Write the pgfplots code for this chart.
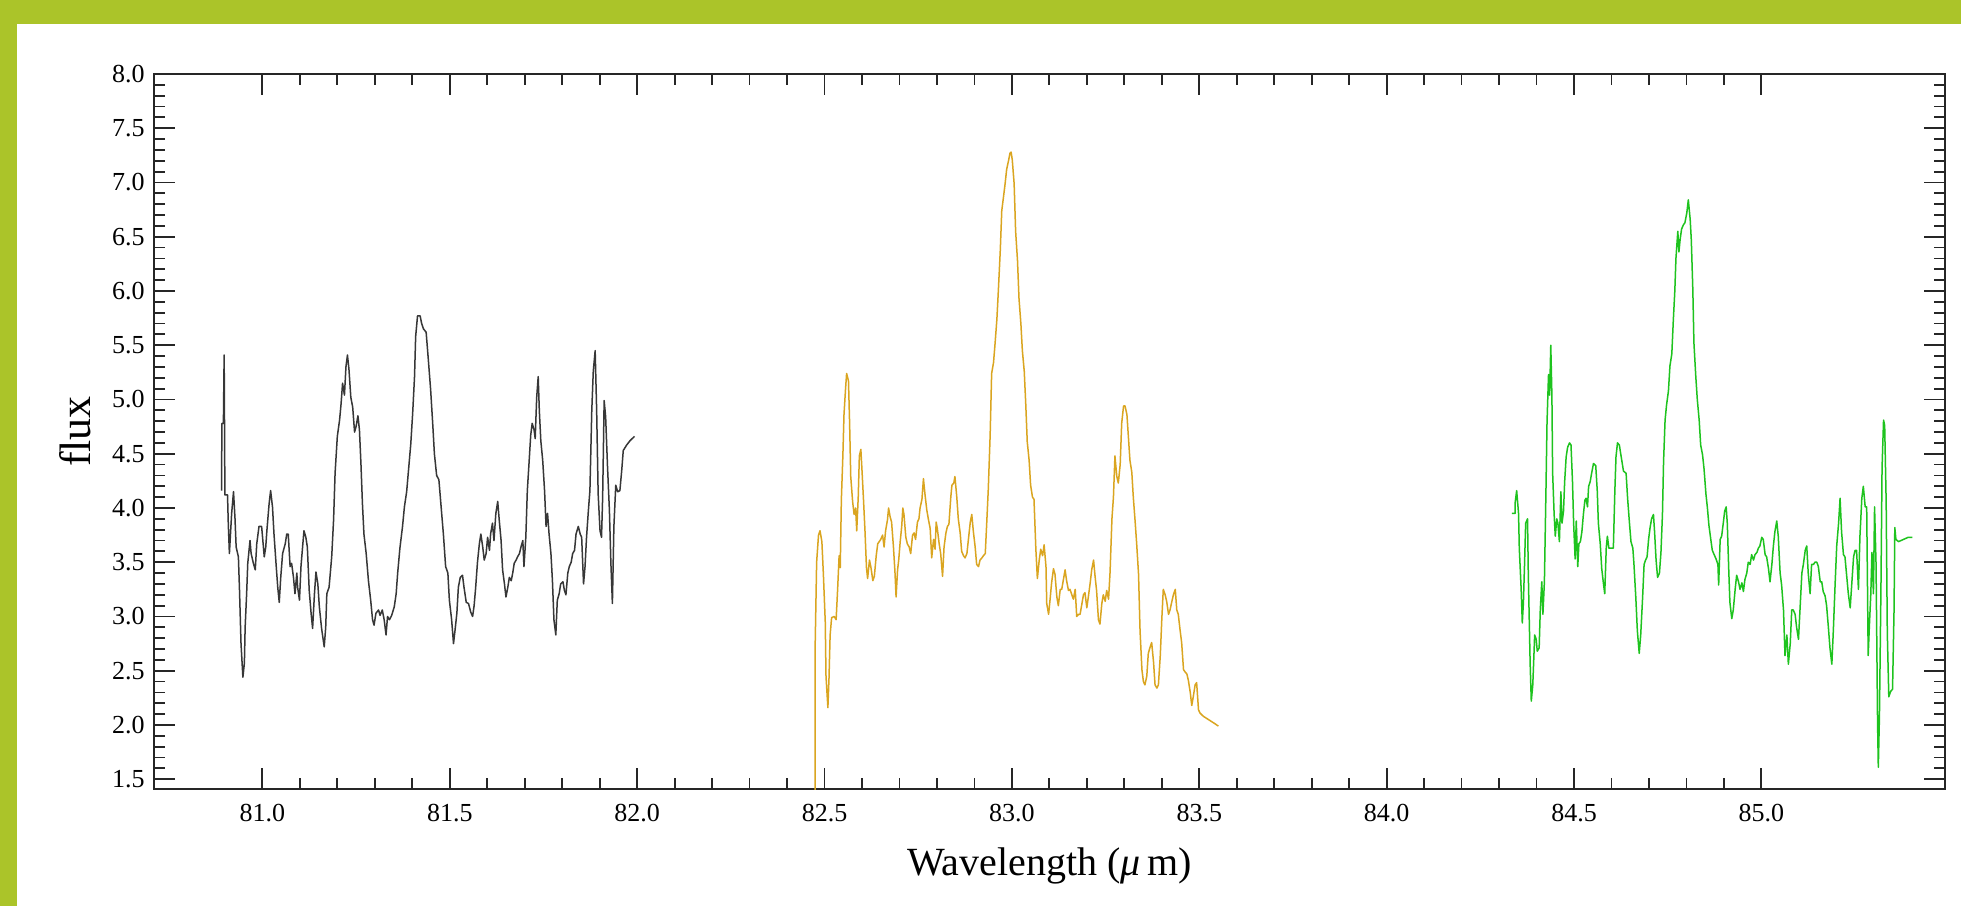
\documentclass[border=0pt]{standalone}
\usepackage{pgfplots}
\pgfplotsset{compat=1.18}
\usepackage{fontspec}
\setmainfont{Liberation Serif}
\definecolor{frame}{RGB}{171,196,41}
\definecolor{cblack}{RGB}{55,55,55}
\definecolor{corange}{RGB}{218,165,32}
\definecolor{cgreen}{RGB}{30,195,30}
\begin{document}
\begin{tikzpicture}
\useasboundingbox (0,0) rectangle (980.5pt,453pt);
\fill[white] (0,0) rectangle (980.5pt,453pt);
\fill[frame] (0,441pt) rectangle (980.5pt,453pt);
\fill[frame] (0,0) rectangle (8.5pt,453pt);
\begin{axis}[
  at={(76.85pt,58.5pt)}, anchor=south west,
  scale only axis, width=895.65pt, height=357.5pt,
  xmin=80.71, xmax=85.49, ymin=1.41, ymax=8.0,
  xtick={81,81.5,82,82.5,83,83.5,84,84.5,85},
  ytick={1.5,2,2.5,3,3.5,4,4.5,5,5.5,6,6.5,7,7.5,8},
  minor x tick num=4, minor y tick num=4,
  major tick length=10.5pt, minor tick length=5.5pt,
  tick align=inside,
  axis line style={line width=0.9pt, draw=black!85},
  every tick/.style={line width=0.9pt, draw=black!85},
  every major tick/.append style={line width=0.9pt, draw=black!85},
  every minor tick/.append style={line width=0.9pt, draw=black!85},
  /pgf/number format/assume math mode=true,
  xticklabel style={font=\fontsize{13}{13}\selectfont, yshift=-4pt, /pgf/number format/.cd, fixed, fixed zerofill, precision=1},
  yticklabel style={font=\fontsize{13}{13}\selectfont, xshift=-1pt, /pgf/number format/.cd, fixed, fixed zerofill, precision=1},
  xlabel={Wavelength (\textit{μ}\,m)},
  ylabel={flux},
  xlabel style={font=\fontsize{20}{20}\selectfont, at={(axis description cs:0.5,-0.1203)}, anchor=base},
  ylabel style={font=\fontsize{22}{22}\selectfont, at={(axis description cs:-0.0352,0.5)}, anchor=base},
  every axis plot/.append style={line width=0.75pt, line join=round},
]
\addplot[cblack] coordinates {
(80.891,4.16) (80.892,4.78) (80.896,4.78) (80.898,5.41) (80.900,4.12) (80.907,4.12) (80.909,3.86) (80.912,3.58)
(80.918,3.95) (80.923,4.15) (80.927,3.90) (80.930,3.64) (80.936,3.55) (80.939,3.24) (80.943,2.75) (80.948,2.44)
(80.952,2.57) (80.954,2.90) (80.958,3.21) (80.961,3.49) (80.967,3.70) (80.970,3.58) (80.976,3.49) (80.981,3.43)
(80.985,3.67) (80.991,3.83) (80.998,3.83) (81.005,3.55) (81.009,3.64) (81.012,3.79) (81.018,4.04) (81.022,4.16)
(81.027,4.01) (81.031,3.76) (81.037,3.46) (81.041,3.27) (81.045,3.13) (81.049,3.36) (81.054,3.58) (81.061,3.67)
(81.065,3.76) (81.069,3.76) (81.074,3.46) (81.078,3.49) (81.083,3.36) (81.087,3.21) (81.092,3.40) (81.094,3.27)
(81.099,3.15) (81.103,3.46) (81.108,3.67) (81.111,3.79) (81.116,3.73) (81.120,3.64) (81.125,3.24) (81.130,3.03)
(81.134,2.89) (81.139,3.21) (81.143,3.41) (81.148,3.30) (81.152,3.09) (81.158,2.89) (81.165,2.72) (81.169,2.90)
(81.172,3.21) (81.178,3.27) (81.185,3.55) (81.190,3.89) (81.194,4.32) (81.200,4.66) (81.206,4.81) (81.210,4.96)
(81.214,5.15) (81.219,5.04) (81.223,5.30) (81.227,5.41) (81.231,5.28) (81.236,5.02) (81.241,4.93) (81.246,4.70)
(81.250,4.75) (81.255,4.85) (81.259,4.72) (81.263,4.41) (81.267,4.04) (81.271,3.76) (81.277,3.58) (81.283,3.33)
(81.289,3.15) (81.294,2.97) (81.298,2.92) (81.303,3.03) (81.310,3.06) (81.314,3.01) (81.320,3.06) (81.325,2.97)
(81.330,2.83) (81.334,3.00) (81.339,2.97) (81.345,3.01) (81.352,3.09) (81.357,3.21) (81.361,3.40) (81.367,3.63)
(81.374,3.83) (81.379,4.01) (81.385,4.15) (81.390,4.35) (81.396,4.59) (81.401,4.87) (81.406,5.21) (81.409,5.58)
(81.414,5.77) (81.421,5.77) (81.425,5.70) (81.430,5.65) (81.437,5.62) (81.443,5.36) (81.449,5.09) (81.455,4.75)
(81.459,4.50) (81.465,4.30) (81.471,4.26) (81.477,4.01) (81.483,3.76) (81.489,3.46) (81.495,3.40) (81.499,3.15)
(81.505,2.97) (81.510,2.75) (81.514,2.87) (81.519,3.03) (81.523,3.27) (81.528,3.36) (81.534,3.38) (81.538,3.27)
(81.544,3.13) (81.550,3.12) (81.556,3.04) (81.561,3.00) (81.565,3.10) (81.569,3.26) (81.574,3.50) (81.579,3.67)
(81.583,3.76) (81.588,3.64) (81.592,3.52) (81.597,3.58) (81.601,3.73) (81.606,3.61) (81.609,3.76) (81.614,3.86)
(81.618,3.70) (81.623,3.95) (81.628,4.06) (81.632,3.89) (81.637,3.70) (81.641,3.43) (81.646,3.30) (81.650,3.18)
(81.655,3.27) (81.659,3.36) (81.664,3.33) (81.668,3.40) (81.672,3.49) (81.677,3.52) (81.681,3.55) (81.686,3.58)
(81.690,3.64) (81.695,3.70) (81.698,3.46) (81.703,3.73) (81.707,4.16) (81.712,4.44) (81.716,4.67) (81.720,4.78)
(81.725,4.72) (81.728,4.64) (81.732,5.02) (81.736,5.21) (81.739,4.90) (81.743,4.62) (81.748,4.44) (81.753,4.16)
(81.757,3.83) (81.761,3.95) (81.765,3.76) (81.770,3.58) (81.774,3.33) (81.778,2.97) (81.783,2.83) (81.787,3.15)
(81.792,3.21) (81.796,3.30) (81.802,3.32) (81.806,3.24) (81.810,3.20) (81.815,3.40) (81.819,3.46) (81.824,3.50)
(81.828,3.58) (81.833,3.61) (81.837,3.76) (81.843,3.83) (81.848,3.76) (81.852,3.73) (81.857,3.30) (81.861,3.46)
(81.865,3.73) (81.870,3.98) (81.874,4.16) (81.879,4.90) (81.883,5.26) (81.888,5.45) (81.892,4.90) (81.896,4.13)
(81.901,3.79) (81.905,3.73) (81.908,4.10) (81.912,4.99) (81.916,4.84) (81.921,4.38) (81.926,3.98) (81.930,3.49)
(81.934,3.12) (81.938,3.83) (81.943,4.21) (81.948,4.15) (81.954,4.16) (81.959,4.35) (81.963,4.53) (81.972,4.58)
(81.981,4.62) (81.993,4.66)
};
\addplot[corange] coordinates {
(82.475,1.30) (82.475,2.72) (82.479,3.50) (82.484,3.75) (82.488,3.79) (82.493,3.69) (82.497,3.39) (82.502,2.95)
(82.504,2.45) (82.509,2.16) (82.512,2.43) (82.515,2.83) (82.519,2.99) (82.526,3.00) (82.531,2.97) (82.535,3.25)
(82.539,3.56) (82.542,3.45) (82.545,4.08) (82.549,4.48) (82.552,4.86) (82.556,5.09) (82.559,5.24) (82.564,5.17)
(82.567,4.78) (82.570,4.29) (82.575,4.06) (82.579,3.94) (82.583,4.00) (82.586,3.79) (82.590,4.10) (82.593,4.48)
(82.597,4.54) (82.600,4.35) (82.604,4.08) (82.608,3.79) (82.612,3.45) (82.615,3.35) (82.620,3.52) (82.624,3.45)
(82.629,3.33) (82.633,3.37) (82.638,3.56) (82.642,3.67) (82.646,3.69) (82.650,3.71) (82.655,3.75) (82.659,3.64)
(82.663,3.79) (82.668,3.89) (82.671,4.00) (82.675,3.92) (82.679,3.87) (82.684,3.64) (82.688,3.41) (82.691,3.18)
(82.695,3.43) (82.698,3.52) (82.702,3.69) (82.706,3.83) (82.709,4.00) (82.712,3.94) (82.717,3.73) (82.721,3.67)
(82.726,3.64) (82.730,3.58) (82.735,3.75) (82.739,3.77) (82.743,3.71) (82.748,3.87) (82.752,3.90) (82.755,4.00)
(82.760,4.08) (82.764,4.27) (82.768,4.13) (82.773,3.98) (82.777,3.90) (82.782,3.81) (82.786,3.54) (82.791,3.71)
(82.795,3.62) (82.798,3.87) (82.801,3.81) (82.806,3.67) (82.810,3.58) (82.815,3.37) (82.819,3.64) (82.824,3.77)
(82.828,3.83) (82.832,3.85) (82.837,4.10) (82.840,4.21) (82.845,4.23) (82.848,4.29) (82.853,4.10) (82.857,3.90)
(82.862,3.77) (82.866,3.60) (82.871,3.56) (82.875,3.54) (82.880,3.58) (82.884,3.71) (82.889,3.87) (82.893,3.94)
(82.897,3.79) (82.902,3.64) (82.906,3.48) (82.911,3.46) (82.915,3.52) (82.920,3.54) (82.924,3.56) (82.929,3.58)
(82.933,3.87) (82.937,4.17) (82.942,4.67) (82.946,5.24) (82.951,5.34) (82.955,5.51) (82.960,5.74) (82.964,6.01)
(82.969,6.37) (82.973,6.74) (82.977,6.85) (82.982,6.99) (82.986,7.12) (82.991,7.20) (82.995,7.27) (82.998,7.28)
(83.001,7.21) (83.006,6.99) (83.010,6.55) (83.015,6.28) (83.019,5.93) (83.024,5.70) (83.028,5.45) (83.033,5.26)
(83.037,4.96) (83.041,4.61) (83.046,4.44) (83.050,4.21) (83.055,4.10) (83.059,4.08) (83.064,3.62) (83.068,3.35)
(83.073,3.52) (83.077,3.62) (83.082,3.56) (83.086,3.66) (83.091,3.46) (83.093,3.12) (83.098,3.02) (83.102,3.16)
(83.106,3.31) (83.111,3.44) (83.115,3.39) (83.120,3.18) (83.124,3.10) (83.129,3.25) (83.133,3.25) (83.138,3.35)
(83.142,3.43) (83.146,3.33) (83.151,3.24) (83.155,3.25) (83.160,3.20) (83.164,3.16) (83.169,3.25) (83.173,3.00)
(83.178,3.02) (83.182,3.02) (83.186,3.10) (83.191,3.20) (83.195,3.22) (83.200,3.08) (83.204,3.18) (83.209,3.31)
(83.213,3.43) (83.218,3.52) (83.222,3.37) (83.226,3.24) (83.231,2.97) (83.235,2.93) (83.240,3.12) (83.244,3.20)
(83.249,3.14) (83.253,3.24) (83.258,3.16) (83.262,3.41) (83.267,3.90) (83.271,4.10) (83.275,4.48) (83.280,4.29)
(83.284,4.23) (83.289,4.40) (83.293,4.78) (83.298,4.94) (83.302,4.94) (83.307,4.86) (83.311,4.65) (83.315,4.44)
(83.320,4.33) (83.324,4.10) (83.329,3.87) (83.333,3.67) (83.338,3.39) (83.342,2.87) (83.347,2.51) (83.351,2.40)
(83.355,2.37) (83.360,2.45) (83.364,2.66) (83.369,2.72) (83.373,2.76) (83.378,2.58) (83.382,2.37) (83.387,2.34)
(83.391,2.37) (83.396,2.64) (83.400,2.97) (83.404,3.25) (83.409,3.20) (83.413,3.14) (83.418,3.02) (83.422,3.06)
(83.427,3.14) (83.431,3.20) (83.436,3.25) (83.440,3.06) (83.444,3.02) (83.449,2.87) (83.453,2.76) (83.458,2.51)
(83.462,2.49) (83.467,2.47) (83.471,2.41) (83.476,2.30) (83.480,2.18) (83.484,2.26) (83.489,2.37) (83.493,2.39)
(83.498,2.14) (83.502,2.11) (83.511,2.08) (83.520,2.06) (83.529,2.04) (83.538,2.02) (83.551,1.99)
};
\addplot[cgreen] coordinates {
(84.334,3.95) (84.343,3.95) (84.343,4.05) (84.347,4.16) (84.352,3.95) (84.354,3.63) (84.359,3.25) (84.362,2.94)
(84.365,3.13) (84.368,3.48) (84.371,3.86) (84.376,3.90) (84.378,3.40) (84.383,2.56) (84.386,2.22) (84.390,2.37)
(84.393,2.64) (84.395,2.83) (84.399,2.79) (84.402,2.68) (84.407,2.71) (84.410,3.06) (84.414,3.32) (84.417,3.02)
(84.421,3.32) (84.425,4.13) (84.428,4.79) (84.432,5.23) (84.435,5.04) (84.438,5.50) (84.441,5.04) (84.443,4.32)
(84.447,3.94) (84.450,3.74) (84.454,3.90) (84.457,3.86) (84.461,3.69) (84.465,4.15) (84.468,3.86) (84.472,3.97)
(84.475,4.24) (84.479,4.47) (84.483,4.56) (84.488,4.60) (84.492,4.58) (84.496,4.24) (84.499,3.86) (84.503,3.53)
(84.506,3.88) (84.510,3.46) (84.513,3.67) (84.517,3.69) (84.521,3.78) (84.525,3.94) (84.529,4.07) (84.532,4.09)
(84.536,4.01) (84.539,4.20) (84.543,4.24) (84.547,4.32) (84.552,4.41) (84.558,4.39) (84.562,4.16) (84.565,3.86)
(84.570,3.67) (84.574,3.44) (84.578,3.32) (84.582,3.21) (84.586,3.63) (84.589,3.74) (84.593,3.63) (84.599,3.63)
(84.605,3.63) (84.609,4.16) (84.612,4.47) (84.616,4.60) (84.621,4.58) (84.626,4.47) (84.632,4.34) (84.639,4.32)
(84.643,4.09) (84.648,3.86) (84.652,3.69) (84.657,3.63) (84.660,3.48) (84.665,3.17) (84.669,2.87) (84.674,2.66)
(84.678,2.83) (84.683,3.17) (84.687,3.48) (84.691,3.52) (84.695,3.55) (84.699,3.71) (84.703,3.82) (84.707,3.90)
(84.712,3.94) (84.715,3.78) (84.719,3.52) (84.723,3.36) (84.728,3.40) (84.732,3.59) (84.736,3.94) (84.739,4.43)
(84.743,4.81) (84.747,4.95) (84.752,5.08) (84.756,5.31) (84.761,5.42) (84.765,5.73) (84.769,6.00) (84.772,6.30)
(84.777,6.55) (84.780,6.36) (84.783,6.47) (84.787,6.57) (84.792,6.61) (84.796,6.63) (84.801,6.72) (84.805,6.84)
(84.810,6.66) (84.813,6.47) (84.817,6.02) (84.820,5.52) (84.825,5.21) (84.829,5.00) (84.834,4.81) (84.838,4.58)
(84.843,4.49) (84.847,4.36) (84.852,4.13) (84.856,4.00) (84.860,3.84) (84.865,3.71) (84.869,3.61) (84.874,3.57)
(84.879,3.53) (84.884,3.48) (84.886,3.29) (84.890,3.71) (84.894,3.74) (84.899,3.88) (84.902,3.97) (84.906,4.01)
(84.909,3.86) (84.913,3.42) (84.916,3.13) (84.921,2.98) (84.925,3.06) (84.930,3.25) (84.934,3.38) (84.939,3.32)
(84.943,3.25) (84.948,3.31) (84.952,3.23) (84.956,3.34) (84.961,3.40) (84.965,3.50) (84.970,3.48) (84.974,3.57)
(84.979,3.52) (84.983,3.57) (84.988,3.59) (84.992,3.63) (84.996,3.65) (85.001,3.73) (85.005,3.71) (85.010,3.57)
(85.014,3.55) (85.019,3.44) (85.023,3.32) (85.028,3.48) (85.032,3.65) (85.036,3.78) (85.041,3.88) (85.045,3.74)
(85.050,3.40) (85.054,3.29) (85.059,3.06) (85.063,2.64) (85.068,2.83) (85.072,2.56) (85.077,2.75) (85.081,3.06)
(85.085,3.06) (85.090,3.02) (85.094,2.90) (85.099,2.79) (85.103,3.06) (85.108,3.40) (85.112,3.48) (85.117,3.61)
(85.121,3.65) (85.125,3.40) (85.130,3.21) (85.134,3.48) (85.139,3.48) (85.143,3.50) (85.148,3.50) (85.152,3.46)
(85.157,3.32) (85.161,3.32) (85.165,3.23) (85.170,3.19) (85.174,3.10) (85.179,2.89) (85.183,2.71) (85.188,2.56)
(85.192,2.87) (85.197,3.32) (85.201,3.65) (85.206,3.86) (85.210,4.09) (85.214,3.78) (85.219,3.57) (85.223,3.55)
(85.228,3.36) (85.232,3.21) (85.237,3.08) (85.241,3.29) (85.246,3.55) (85.250,3.61) (85.254,3.61) (85.259,3.25)
(85.263,3.74) (85.268,4.09) (85.272,4.20) (85.277,4.01) (85.281,4.01) (85.285,2.64) (85.288,2.90) (85.292,3.21)
(85.295,3.59) (85.299,3.21) (85.302,4.01) (85.306,3.48) (85.310,2.03) (85.312,1.61) (85.315,2.08) (85.319,3.25)
(85.322,4.37) (85.326,4.81) (85.329,4.76) (85.333,4.05) (85.336,2.85) (85.340,2.26) (85.345,2.31) (85.350,2.33)
(85.354,3.06) (85.356,3.82) (85.359,3.71) (85.366,3.69) (85.379,3.71) (85.392,3.73) (85.403,3.73)
};
\end{axis}
\end{tikzpicture}
\end{document}
